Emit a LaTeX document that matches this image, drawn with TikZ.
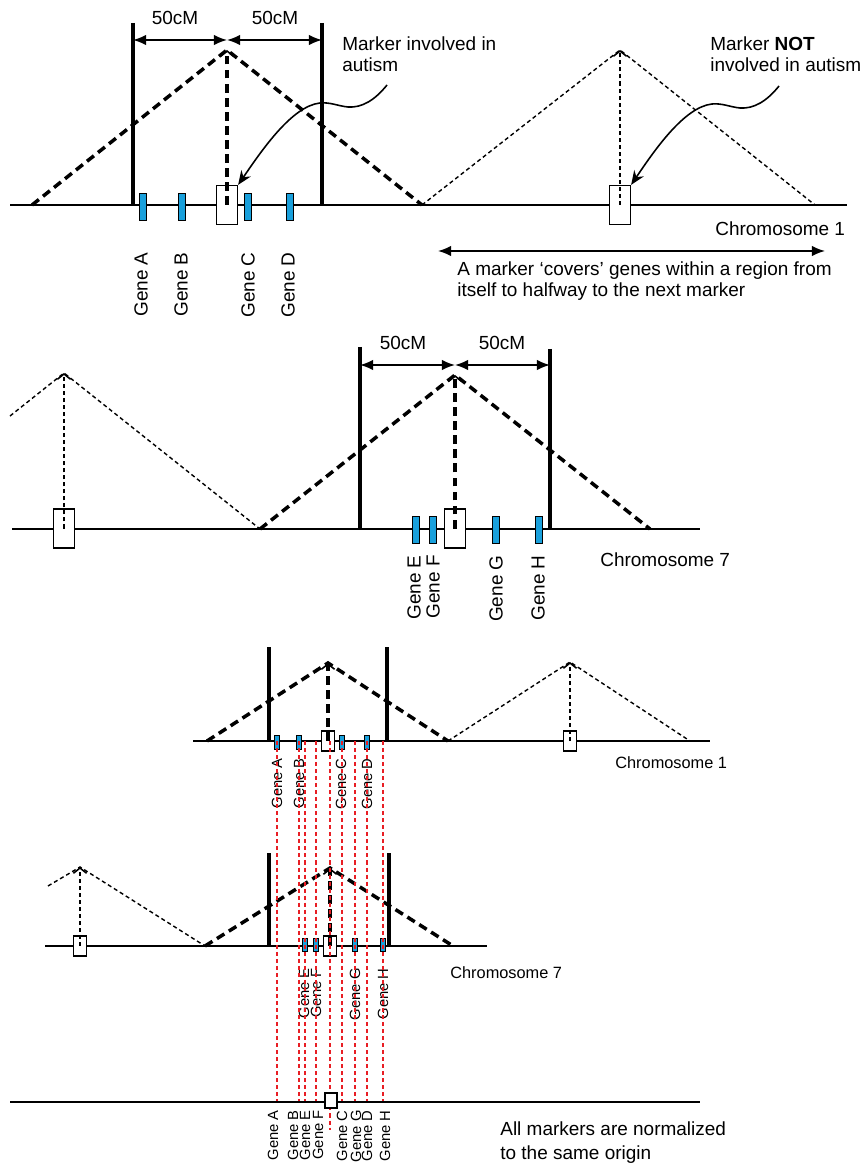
\documentclass[tikz,border=0pt]{standalone}
\usepackage{fontspec}
\setmainfont{Liberation Sans}
\usetikzlibrary{arrows.meta}

\definecolor{geneblue}{RGB}{25,160,220}
\definecolor{linkred}{RGB}{232,30,36}

\tikzset{
  chrom/.style={line width=1.1pt},
  bound/.style={line width=2pt},
  cover/.style={line width=2pt, dash pattern=on 5pt off 3pt},
  nocover/.style={line width=0.8pt, dash pattern=on 2.3pt off 1.7pt},
  apextip/.style={-{Straight Barb[length=3pt,width=7.5pt,line width=0.9pt]}},
  dimarrow/.style={line width=0.9pt, {Latex[length=7.5pt,width=6pt]}-{Latex[length=7.5pt,width=6pt]}},
  pointer/.style={line width=0.9pt, -{Stealth[length=8pt,width=6.5pt]}},
  gene/.style={draw, line width=0.5pt, fill=geneblue, inner sep=0, minimum width=0.14cm, minimum height=0.54cm},
  smallgene/.style={gene, minimum width=0.09cm, minimum height=0.27cm},
  markerbox/.style={draw, fill=white, line width=0.7pt, inner sep=0, minimum width=0.42cm, minimum height=0.78cm},
  smallmarker/.style={markerbox, minimum width=0.26cm, minimum height=0.4cm},
  genelabel/.style={rotate=90, anchor=east, inner sep=0, font=\fontsize{10.8}{13}\selectfont},
  smalllabel/.style={genelabel, font=\fontsize{8.4}{10}\selectfont},
  txt/.style={inner sep=0, align=left, font=\fontsize{10.8}{11.9}\selectfont},
  redlink/.style={linkred, line width=0.7pt, dash pattern=on 2.3pt off 1.7pt},
}

\begin{document}
\begin{tikzpicture}[x=0.02cm, y=-0.02cm]
    \useasboundingbox (0,0) rectangle (865,1165);

    % Chromosome 1: one marker involved, one not involved
    \coordinate (apexA) at (227,50);
    \coordinate (apexB) at (620,50);
    \draw[chrom] (10,205) -- (847,205);
    \draw[cover] (32,205) -- (apexA) -- (422,205);
    \draw[nocover] (422,205) -- (apexB) -- (815,205);
    \draw[bound] (133,23) -- (133,205);
    \draw[bound] (322,23) -- (322,205);
    \draw[dimarrow] (133,40) -- (227,40);
    \draw[dimarrow] (227,40) -- (322,40);
    \node[txt] at (175,18) {50cM};
    \node[txt] at (275,18) {50cM};

    \node[markerbox] (mkA) at (227,205) {};
    \node[markerbox] (mkB) at (620,205) {};
    \draw[cover, apextip] (mkA.center) -- (apexA);
    \draw[nocover, apextip] (mkB.center) -- (apexB);

    \node[gene] (gA) at (143,206.5) {};
    \node[gene] (gB) at (182,206.5) {};
    \node[gene] (gC) at (248,206.5) {};
    \node[gene] (gD) at (290,206.5) {};
    \node[genelabel] at (141,252) {Gene A};
    \node[genelabel] at (181,252) {Gene B};
    \node[genelabel] at (248,252) {Gene C};
    \node[genelabel] at (288,252) {Gene D};

    \node[txt, anchor=north west] (inv) at (342,36) {Marker involved in\\autism};
    \node[txt, anchor=north west] (notinv) at (710,36) {Marker \textbf{NOT}\\involved in autism};
    \draw[pointer] (387,85) .. controls (375,100) and (362,108) .. (348,107)
        .. controls (338,106) and (330,102) .. (320,103)
        .. controls (292,106) and (262,150) .. (mkA.north east);
    \draw[pointer] (779,86) .. controls (767,101) and (754,109) .. (740,108)
        .. controls (730,107) and (722,103) .. (712,104)
        .. controls (684,107) and (654,151) .. (mkB.north east);

    \node[txt, anchor=base west] at (715,236) {Chromosome 1};
    \draw[dimarrow] (438,251) -- (825,251);
    \node[txt, anchor=north west] at (457,261) {A marker ‘covers’ genes within a region from\\itself to halfway to the next marker};

    % Chromosome 7
    \coordinate (apexC) at (64,373);
    \coordinate (apexD) at (455,375);
    \draw[chrom] (12,529) -- (700,529);
    \draw[nocover] (10,416) -- (apexC) -- (260,529);
    \draw[cover] (260,529) -- (apexD) -- (650,529);
    \draw[bound] (360,347) -- (360,529);
    \draw[bound] (550,349) -- (550,529);
    \draw[dimarrow] (360,365) -- (455,365);
    \draw[dimarrow] (455,365) -- (550,365);
    \node[txt] at (403,343) {50cM};
    \node[txt] at (502,343) {50cM};

    \node[markerbox] (mkC) at (64,528.5) {};
    \node[markerbox] (mkD) at (455,528.5) {};
    \draw[nocover, apextip] (mkC.center) -- (apexC);
    \draw[cover, apextip] (mkD.center) -- (apexD);

    \node[gene] (gE) at (416,529.5) {};
    \node[gene] (gF) at (433,529.5) {};
    \node[gene] (gG) at (496,529.5) {};
    \node[gene] (gH) at (539,529.5) {};
    \node[genelabel] at (414,555) {Gene E};
    \node[genelabel] at (433,555) {Gene F};
    \node[genelabel] at (496,555) {Gene G};
    \node[genelabel] at (538,555) {Gene H};
    \node[txt, anchor=base west] at (600,566) {Chromosome 7};

    % Chromosome 1, scaled down
    \coordinate (apexE) at (328,663);
    \coordinate (apexF) at (570,662);
    \draw[chrom] (193,741) -- (710,741);
    \draw[cover] (207,741) -- (apexE) -- (448,741);
    \draw[nocover] (448,741) -- (apexF) -- (690,741);
    \draw[bound] (269,647) -- (269,741);
    \draw[bound] (387,647) -- (387,741);
    \node[smallmarker] (mkE) at (328,741) {};
    \node[smallmarker] (mkF) at (570,741) {};
    \draw[cover, apextip] (mkE.center) -- (apexE);
    \draw[nocover, apextip] (mkF.center) -- (apexF);
    \node[smallgene] (sA) at (277,742.5) {};
    \node[smallgene] (sB) at (299,742.5) {};
    \node[smallgene] (sC) at (342,742.5) {};
    \node[smallgene] (sD) at (367,742.5) {};
    \node[smalllabel] at (277,758) {Gene A};
    \node[smalllabel] at (299,758) {Gene B};
    \node[smalllabel] at (341,758) {Gene C};
    \node[smalllabel] at (367,758) {Gene D};
    \node[txt, anchor=base west, font=\fontsize{9.3}{11}\selectfont] at (615,768) {Chromosome 1};

    % Chromosome 7, scaled down
    \coordinate (apexG) at (80,867);
    \coordinate (apexH) at (330,868);
    \draw[chrom] (45,946) -- (487,946);
    \draw[nocover] (48,886) -- (apexG) -- (205,946);
    \draw[cover] (205,946) -- (apexH) -- (453,946);
    \draw[bound] (269,853) -- (269,946);
    \draw[bound] (389,853) -- (389,946);
    \node[smallmarker] (mkG) at (80,946) {};
    \node[smallmarker] (mkH) at (330,946) {};
    \draw[nocover, apextip] (mkG.center) -- (apexG);
    \draw[cover, apextip] (mkH.center) -- (apexH);
    \node[smallgene] (sE) at (305,945) {};
    \node[smallgene] (sF) at (316,945) {};
    \node[smallgene] (sG) at (355,945) {};
    \node[smallgene] (sH) at (383,945) {};
    \node[smalllabel] at (304,968) {Gene E};
    \node[smalllabel] at (316,968) {Gene F};
    \node[smalllabel] at (355,968) {Gene G};
    \node[smalllabel] at (383,968) {Gene H};
    \node[txt, anchor=base west, font=\fontsize{9.3}{11}\selectfont] at (450,978) {Chromosome 7};

    % red guides down to the common origin
    \foreach \x in {277,299,305,316,342,355,367,383}
        \draw[redlink] (\x,741) -- (\x,1102);
    \draw[redlink] (330,741) -- (330,1130);

    % all markers on the same origin
    \draw[chrom] (10,1102) -- (700,1102);
    \node[draw, fill=white, line width=0.8pt, inner sep=0, minimum width=0.24cm, minimum height=0.3cm] (mkO) at (331,1100.5) {};
    \node[smalllabel] at (273,1110) {Gene A};
    \node[smalllabel] at (293,1110) {Gene B};
    \node[smalllabel] at (305,1110) {Gene E};
    \node[smalllabel] at (318,1110) {Gene F};
    \node[smalllabel] at (342,1110) {Gene C};
    \node[smalllabel] at (356,1110) {Gene G};
    \node[smalllabel] at (367,1110) {Gene D};
    \node[smalllabel] at (385,1110) {Gene H};
    \node[txt, anchor=north west, font=\fontsize{10.8}{13.6}\selectfont] at (500,1121) {All markers are normalized\\to the same origin};

\end{tikzpicture}
\end{document}
